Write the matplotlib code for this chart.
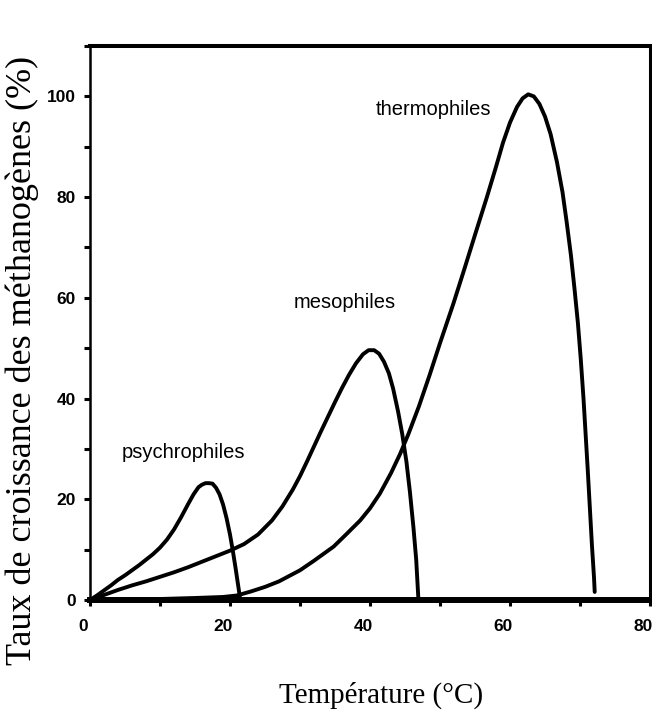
import matplotlib
matplotlib.use('Agg')
import matplotlib.pyplot as plt
from matplotlib import font_manager as fm
from matplotlib.ticker import MultipleLocator
import matplotlib.transforms as mtransforms

# ---- data ----
psy_x = [0, 1, 2, 3, 4, 5, 6, 7, 8, 9, 10, 11, 12, 13, 14, 14.8, 15.5, 16, 16.5, 17, 17.5,
         18, 18.5, 19, 19.5, 20, 20.4, 20.8, 21.1, 21.4]
psy_y = [0, 0.9, 1.9, 2.9, 4.0, 4.9, 5.9, 6.9, 8.0, 9.1, 10.4, 12.0, 14.0, 16.4, 19.0, 21.0, 22.4,
         22.9, 23.2, 23.2, 23.1, 22.3, 21.0, 19.0, 16.3, 13.0, 9.8, 6.3, 3.5, 0.7]

meso_x = [0, 2, 4, 6, 8, 10, 12, 14, 16, 18, 20, 22, 24, 26, 27.5, 29, 30, 31, 32, 33, 34, 35,
          36, 37, 38, 39, 39.8, 40.6, 41.3, 42, 42.7, 43.3, 44, 44.6, 45.2, 45.7, 46.2, 46.6, 46.9]
meso_y = [0, 1.0, 2.0, 2.9, 3.7, 4.6, 5.5, 6.5, 7.6, 8.7, 9.8, 11.1, 13.0, 15.8, 18.6, 22.0, 24.6,
          27.5, 30.5, 33.5, 36.4, 39.3, 42.1, 44.7, 47.0, 48.8, 49.6, 49.6, 48.9, 47.3, 45.0, 42.0,
          37.5, 33.0, 27.5, 21.5, 14.5, 8.0, 0.5]

thermo_x = [0, 5, 10, 15, 19, 21, 23, 25, 27, 30, 32, 34.8, 36.5, 38.6, 40, 41.4, 43, 44.3, 45.5,
            47, 48.5, 50, 51.9, 53.5, 55, 56.7, 58, 59, 60, 61, 61.8, 62.6, 63.4, 64.2, 65, 65.8,
            66.7, 67.5, 68.1, 68.7, 69.2, 69.7, 70.1, 70.5, 70.8, 71.1, 71.4, 71.7, 72.0, 72.1]
thermo_y = [0, 0.05, 0.2, 0.4, 0.6, 0.9, 1.7, 2.6, 3.7, 5.9, 7.8, 10.6, 12.9, 15.8, 18.2, 21.1,
            25.2, 29.0, 33.0, 38.5, 44.6, 51.0, 58.8, 65.8, 72.5, 80.0, 86.0, 90.8, 94.8, 97.9,
            99.6, 100.4, 100.0, 98.5, 96.0, 92.5, 87.0, 81.0, 75.0, 68.5, 62.0, 55.0, 48.0, 40.0,
            33.0, 26.0, 18.5, 11.0, 4.5, 1.6]

labels = ["psychrophiles", "mesophiles", "thermophiles"]
label_x = [13.4, 36.4, 49.0]
label_y = [29.3, 59.0, 97.4]

x_ticks = [0, 20, 40, 60, 80]
y_ticks = [0, 20, 40, 60, 80, 100]
xlabel = "Température (°C)"
ylabel = "Taux de croissance des méthanogènes (%)"

# ---- fonts ----
names = {f.name for f in fm.fontManager.ttflist}
narrow = 'Liberation Sans Narrow' in names
sans = ['Liberation Sans Narrow', 'Liberation Sans', 'DejaVu Sans'] if narrow else ['Liberation Sans', 'DejaVu Sans']
serif = ['Liberation Serif', 'DejaVu Serif']

fig = plt.figure(figsize=(6.52, 7.18), dpi=100)
ax = fig.add_axes([90 / 652, 118 / 718, 560 / 652, (600 - 46) / 718])
ax.set_xlim(0, 80)
ax.set_ylim(0, 110)

for xs, ys in [(psy_x, psy_y), (meso_x, meso_y), (thermo_x, thermo_y)]:
    ax.plot(xs, ys, color='black', lw=2.8, solid_capstyle='round',
            solid_joinstyle='round', clip_on=False, zorder=3)

lab_size = 17 if narrow else 14.5
for t, x, y in zip(labels, label_x, label_y):
    ax.text(x, y, t, ha='center', va='center', fontsize=lab_size,
            family=sans, color='black')

# spines
ax.spines['top'].set_linewidth(2.9)
ax.spines['bottom'].set_linewidth(4.3)
ax.spines['left'].set_linewidth(1.8)
ax.spines['right'].set_linewidth(2.2)

ax.set_xticks(x_ticks)
ax.set_yticks(y_ticks)
ax.xaxis.set_minor_locator(MultipleLocator(10))
ax.yaxis.set_minor_locator(MultipleLocator(10))
ax.tick_params(which='both', direction='out', length=4, width=2.2, color='black',
               top=False, right=False)
ax.tick_params(axis='y', which='major', pad=6)
ax.tick_params(axis='x', which='major', pad=10)

tick_size = 13 if narrow else 12.5
for lab in ax.get_xticklabels() + ax.get_yticklabels():
    lab.set_fontfamily(sans)
    lab.set_fontsize(tick_size)
    lab.set_fontweight('bold')

offset = mtransforms.ScaledTranslation(-7 / 100, 0, fig.dpi_scale_trans)
for lab in ax.get_xticklabels():
    lab.set_transform(lab.get_transform() + offset)

fig.text(381 / 652, 1 - 695 / 718, xlabel, ha='center', va='center',
         fontsize=21, family=serif)
fig.text(22 / 652, 1 - 360 / 718, ylabel, ha='center', va='center',
         rotation=90, fontsize=26, family=serif)

fig.savefig('out.png', dpi=100)
